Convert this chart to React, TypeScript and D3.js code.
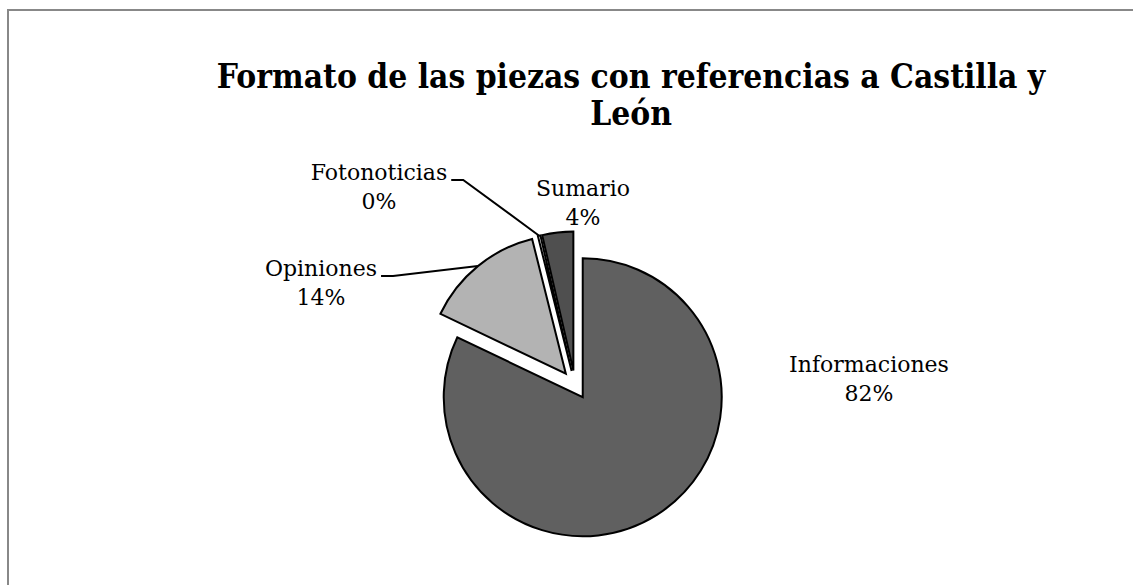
import React, { useEffect, useRef } from "react";
import * as d3 from "d3";

const categories = ["Informaciones", "Opiniones", "Fotonoticias", "Sumario"];
const values = [82.1, 14.0, 0.3, 3.6];
const percentLabels = ["82%", "14%", "0%", "4%"];
const sliceColors = ["#606060", "#b3b3b3", "#ffffff", "#4f4f4f"];
const titleLines = ["Formato de las piezas con referencias a Castilla y", "León"];

// layout (not data)
const W = 1133;
const H = 585;
const CX = 575;
const CY = 385;
const R = 139;
const EXPLODE = 14.5;
const LINE_GAP = 29;
const labelPos: Record<string, { x: number; y: number; leader: boolean }> = {
  Informaciones: { x: 869, y: 372, leader: false },
  Opiniones: { x: 321, y: 276, leader: true },
  Fotonoticias: { x: 379, y: 180, leader: true },
  Sumario: { x: 583, y: 196, leader: false },
};

export default function App() {
  const ref = useRef<SVGSVGElement>(null);

  useEffect(() => {
    const svg = d3.select(ref.current);
    svg.selectAll("*").remove();

    svg
      .append("rect")
      .attr("x", 8)
      .attr("y", 10)
      .attr("width", 1300)
      .attr("height", 800)
      .attr("fill", "#fff")
      .attr("stroke", "#888")
      .attr("stroke-width", 2);

    titleLines.forEach((t, i) => {
      svg
        .append("text")
        .attr("transform", `translate(631,${88 + i * 37}) scale(0.88,1)`)
        .attr("x", 0)
        .attr("y", 0)
        .attr("font-family", "'DejaVu Serif', serif")
        .attr("font-weight", "bold")
        .attr("font-size", 34)
        .attr("text-anchor", "middle")
        .attr("fill", "#000")
        .text(t);
    });

    const data = categories.map((c, i) => ({ c, v: values[i], p: percentLabels[i], col: sliceColors[i] }));
    const pie = d3
      .pie<any>()
      .sort(null)
      .value((d) => d.v)
      .startAngle(0)
      .endAngle(2 * Math.PI);
    const arcs = pie(data);
    const arc = d3.arc<any>().innerRadius(0).outerRadius(R);

    const g = svg.append("g").attr("transform", `translate(${CX},${CY})`);

    arcs.forEach((a) => {
      const mid = (a.startAngle + a.endAngle) / 2;
      const dx = EXPLODE * Math.sin(mid);
      const dy = -EXPLODE * Math.cos(mid);
      g.append("path")
        .attr("d", arc(a) as string)
        .attr("transform", `translate(${dx},${dy})`)
        .attr("fill", a.data.col)
        .attr("stroke", "#000")
        .attr("stroke-width", 2)
        .attr("stroke-linejoin", "miter");
    });

    const lg = svg.append("g");
    arcs.forEach((a) => {
      const lp = labelPos[a.data.c];
      const t = lg
        .append("text")
        .attr("font-family", "'DejaVu Serif', serif")
        .attr("font-size", 22)
        .attr("text-anchor", "middle")
        .attr("fill", "#000");
      const t1 = t.append("tspan").attr("x", lp.x).attr("y", lp.y).text(a.data.c);
      t.append("tspan").attr("x", lp.x).attr("y", lp.y + LINE_GAP).text(a.data.p);
      if (lp.leader) {
        const w = (t1.node() as SVGTSpanElement).getComputedTextLength();
        const x0 = lp.x + w / 2 + 4;
        const y0 = lp.y;
        const mid = (a.startAngle + a.endAngle) / 2;
        const ox = CX + EXPLODE * Math.sin(mid) + R * Math.sin(mid);
        const oy = CY - EXPLODE * Math.cos(mid) - R * Math.cos(mid);
        lg.append("path")
          .attr("d", d3.line()([[x0, y0], [x0 + 12, y0], [ox, oy]]) as string)
          .attr("fill", "none")
          .attr("stroke", "#000")
          .attr("stroke-width", 2);
      }
    });
  }, []);

  return (
    <svg
      ref={ref}
      width={W}
      height={H}
      style={{ position: "absolute", left: 0, top: 0, background: "#fff" }}
    />
  );
}
